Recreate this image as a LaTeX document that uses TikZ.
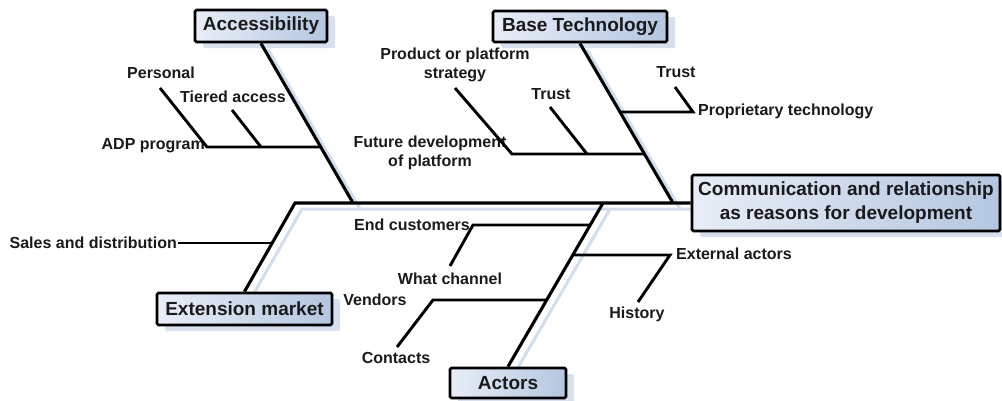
\documentclass[tikz,border=0pt]{standalone}
\usepackage{fontspec}
\setmainfont{Liberation Sans}
\usetikzlibrary{shadows}
\definecolor{boxL}{HTML}{E8EEF7}
\definecolor{boxR}{HTML}{B4C6E0}
\definecolor{boxshade}{HTML}{D6E0EF}
\definecolor{lineshade}{HTML}{D2DDEE}
\definecolor{ink}{HTML}{1A1A1A}
\pgfdeclarelayer{bg}
\pgfsetlayers{bg,main}
\begin{document}
\begin{tikzpicture}[x=1pt,y=-1pt,
  cat/.style={draw=black, line width=2.8pt, rounded corners=1.5pt,
    left color=boxL, right color=boxR, text=ink,
    font=\fontsize{19}{24}\selectfont\bfseries, inner sep=0pt, align=center,
    drop shadow={shadow xshift=8pt, shadow yshift=-6pt, fill=boxshade, opacity=1}},
  lbl/.style={font=\fontsize{16}{19}\selectfont\bfseries, text=ink, inner sep=1pt, align=center},
  bone/.style={line width=3.1pt, black},
  sub/.style={line width=2.9pt, black},
  bshadow/.style={line width=3pt, lineshade, transform canvas={shift={(7,6)}}}]
\useasboundingbox (0,0) rectangle (1002,400);

% category boxes
\node[cat, minimum width=132pt, minimum height=32pt] (acc) at (261,26) {Accessibility};
\node[cat, minimum width=174pt, minimum height=31pt] (base) at (580,26.5) {Base Technology};
\node[cat, minimum width=308pt, minimum height=56pt] (main) at (846,203) {Communication and relationship\\as reasons for development};
\node[cat, minimum width=175pt, minimum height=32pt] (ext) at (244.5,309) {Extension market};
\node[cat, minimum width=116pt, minimum height=30pt] (act) at (508,383) {Actors};

% spine junctions
\coordinate (s0) at (295,203);
\coordinate (aJ) at (353,203);
\coordinate (bJ) at (673,203);
\coordinate (cJ) at (603,203);

% shadows of spine and bones
\begin{pgfonlayer}{bg}
\draw[bshadow] (ext.north) -- (s0) -- (main.west);
\draw[bshadow] (acc.south) -- (aJ);
\draw[bshadow] (base.south) -- (bJ);
\draw[bshadow] (cJ) -- (act.north);
\end{pgfonlayer}

% spine and bones
\draw[bone] (ext.north) -- (s0) -- (main.west);
\draw[bone] (acc.south) -- (aJ);
\draw[bone] (base.south) -- (bJ);
\draw[bone] (cJ) -- (act.north);

% Accessibility
\node[lbl] (personal) at (161,73) {Personal};
\node[lbl] (tiered) at (233,97) {Tiered access};
\node[lbl, anchor=east] (adp) at (206,146) {ADP program};
\coordinate (a1) at (321.3,147);
\coordinate (a2) at (207,147);
\coordinate (a3) at (261,147);
\coordinate (pE) at (160,88);
\coordinate (tE) at (232,110);
\draw[sub] (a1) -- (a2) -- (pE);
\draw[sub] (a3) -- (tE);

% Base Technology
\node[lbl] (prod) at (455,65) {Product or platform\\strategy};
\node[lbl] (trust1) at (551,94) {Trust};
\node[lbl] (future) at (430,153) {Future development\\of platform};
\node[lbl] (trust2) at (676,72) {Trust};
\node[lbl, anchor=west] (prop) at (697,111) {Proprietary technology};
\coordinate (b1) at (644.7,154);
\coordinate (b2) at (512,154);
\coordinate (b3) at (587,154);
\coordinate (prodE) at (455,88);
\coordinate (trE) at (550,107);
\coordinate (b4) at (620.4,112);
\coordinate (b5) at (693,112);
\coordinate (tr2E) at (675,87);
\draw[sub] (b1) -- (b2) -- (prodE);
\draw[sub] (b3) -- (trE);
\draw[sub] (b4) -- (b5) -- (tr2E);

% Extension market
\node[lbl, anchor=east] (sales) at (178,243) {Sales and distribution};
\coordinate (e1) at (272.6,243);
\draw[sub] (sales.east) -- (e1);

% Actors
\node[lbl, anchor=east] (endc) at (471,225) {End customers};
\node[lbl] (channel) at (450,279) {What channel};
\node[lbl, anchor=west] (extact) at (675,254) {External actors};
\node[lbl] (history) at (637,314) {History};
\node[lbl] (vendors) at (375,300) {Vendors};
\node[lbl] (contacts) at (396,358) {Contacts};
\coordinate (c1) at (590.3,225);
\coordinate (c2) at (473,225);
\coordinate (wcE) at (450,266);
\coordinate (c3) at (573.1,255);
\coordinate (c4) at (670,255);
\coordinate (hE) at (638,302);
\coordinate (c5) at (547.1,300);
\coordinate (c6) at (433,300);
\coordinate (coE) at (397,347);
\draw[sub] (c1) -- (c2) -- (wcE);
\draw[sub] (c3) -- (c4) -- (hE);
\draw[sub] (c5) -- (c6) -- (coE);
\end{tikzpicture}
\end{document}
